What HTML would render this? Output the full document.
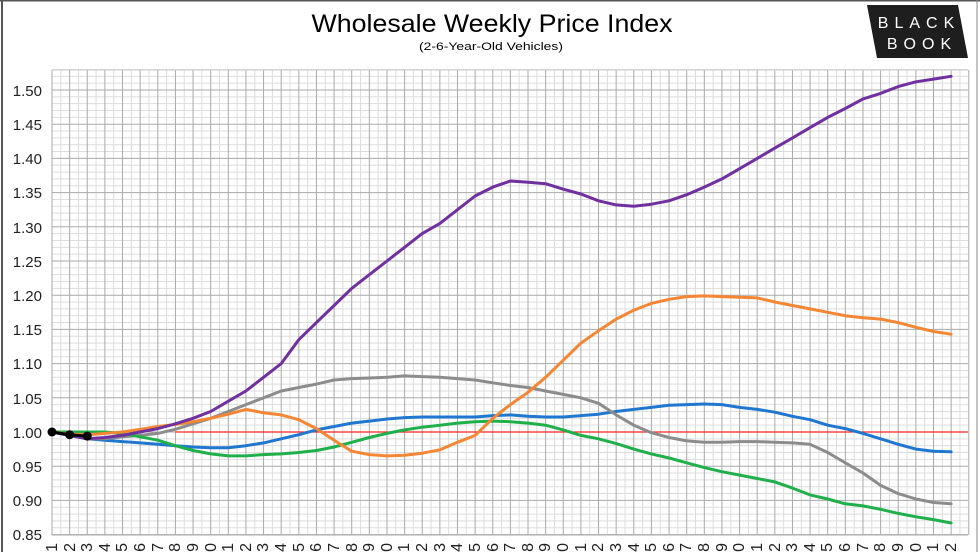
<!DOCTYPE html>
<html><head><meta charset="utf-8"><style>
html,body{margin:0;padding:0;background:#fff}
svg{display:block;font-family:"Liberation Sans",Arial,sans-serif}
</style></head><body>
<svg id="s" width="980" height="552" viewBox="0 0 980 552" xmlns="http://www.w3.org/2000/svg">
<rect x="0" y="0" width="980" height="552" fill="#fff"/>
<line x1="0" y1="0.5" x2="980" y2="0.5" stroke="#555" stroke-width="2"/>
<line x1="2" y1="0" x2="2" y2="552" stroke="#555" stroke-width="2"/>
<line x1="977" y1="0" x2="977" y2="552" stroke="#888" stroke-width="1"/>
<g id="grid"></g>
<g id="series"></g>
<text x="492" y="32" font-size="25" text-anchor="middle" textLength="361" lengthAdjust="spacingAndGlyphs">Wholesale Weekly Price Index</text>
<text x="491" y="50" font-size="11" text-anchor="middle" textLength="144" lengthAdjust="spacingAndGlyphs">(2-6-Year-Old Vehicles)</text>
<polygon points="867,5 958,5 968,58 877,58" fill="#1e1e1e"/>
<text x="919" y="28" font-size="16" fill="#fff" text-anchor="middle" letter-spacing="6">BLACK</text>
<text x="922" y="49" font-size="16" fill="#fff" text-anchor="middle" letter-spacing="6">BOOK</text>
<g font-size="15" fill="#222" text-anchor="end">
<text x="42" y="96">1.50</text><text x="42" y="130">1.45</text><text x="42" y="164">1.40</text><text x="42" y="198">1.35</text><text x="42" y="233">1.30</text><text x="42" y="267">1.25</text><text x="42" y="301">1.20</text><text x="42" y="335">1.15</text><text x="42" y="369">1.10</text><text x="42" y="404">1.05</text><text x="42" y="438">1.00</text><text x="42" y="472">0.95</text><text x="42" y="506">0.90</text><text x="42" y="540">0.85</text>
</g>
<g id="xl" font-size="16" fill="#222" text-anchor="end">
<text transform="translate(57,543) rotate(-90)">1</text><text transform="translate(75,543) rotate(-90)">2</text><text transform="translate(92,543) rotate(-90)">3</text><text transform="translate(110,543) rotate(-90)">4</text><text transform="translate(127,543) rotate(-90)">5</text><text transform="translate(145,543) rotate(-90)">6</text><text transform="translate(163,543) rotate(-90)">7</text><text transform="translate(180,543) rotate(-90)">8</text><text transform="translate(198,543) rotate(-90)">9</text><text transform="translate(216,543) rotate(-90)">10</text><text transform="translate(233,543) rotate(-90)">11</text><text transform="translate(251,543) rotate(-90)">12</text><text transform="translate(268,543) rotate(-90)">13</text><text transform="translate(286,543) rotate(-90)">14</text><text transform="translate(304,543) rotate(-90)">15</text><text transform="translate(321,543) rotate(-90)">16</text><text transform="translate(339,543) rotate(-90)">17</text><text transform="translate(357,543) rotate(-90)">18</text><text transform="translate(374,543) rotate(-90)">19</text><text transform="translate(392,543) rotate(-90)">20</text><text transform="translate(409,543) rotate(-90)">21</text><text transform="translate(427,543) rotate(-90)">22</text><text transform="translate(445,543) rotate(-90)">23</text><text transform="translate(462,543) rotate(-90)">24</text><text transform="translate(480,543) rotate(-90)">25</text><text transform="translate(498,543) rotate(-90)">26</text><text transform="translate(515,543) rotate(-90)">27</text><text transform="translate(533,543) rotate(-90)">28</text><text transform="translate(550,543) rotate(-90)">29</text><text transform="translate(568,543) rotate(-90)">30</text><text transform="translate(586,543) rotate(-90)">31</text><text transform="translate(603,543) rotate(-90)">32</text><text transform="translate(621,543) rotate(-90)">33</text><text transform="translate(639,543) rotate(-90)">34</text><text transform="translate(656,543) rotate(-90)">35</text><text transform="translate(674,543) rotate(-90)">36</text><text transform="translate(691,543) rotate(-90)">37</text><text transform="translate(709,543) rotate(-90)">38</text><text transform="translate(727,543) rotate(-90)">39</text><text transform="translate(744,543) rotate(-90)">40</text><text transform="translate(762,543) rotate(-90)">41</text><text transform="translate(780,543) rotate(-90)">42</text><text transform="translate(797,543) rotate(-90)">43</text><text transform="translate(815,543) rotate(-90)">44</text><text transform="translate(832,543) rotate(-90)">45</text><text transform="translate(850,543) rotate(-90)">46</text><text transform="translate(868,543) rotate(-90)">47</text><text transform="translate(885,543) rotate(-90)">48</text><text transform="translate(903,543) rotate(-90)">49</text><text transform="translate(921,543) rotate(-90)">50</text><text transform="translate(938,543) rotate(-90)">51</text><text transform="translate(956,543) rotate(-90)">52</text>
</g>
</svg>
<script>
(function(){
var NS="http://www.w3.org/2000/svg";
var L=52,R=968,T=70,B=535,dx=17.63;
function X(w){return L+(w-1)*dx;}
function Y(v){return 432-(v-1)*684;}
function el(tag,a,p){var e=document.createElementNS(NS,tag);for(var k in a)e.setAttribute(k,a[k]);p.appendChild(e);return e;}
var g=document.getElementById("grid");
for(var i=0;i<=68;i++){var v=0.85+i*0.01;var y=Y(v);var major=(i%5==0);
 if(!major) el("line",{x1:L,x2:R,y1:y,y2:y,stroke:"#ddd","stroke-width":1},g);}
for(var w=1;w<=52;w++){var x=X(w)+dx/2;el("line",{x1:x,x2:x,y1:T,y2:B,stroke:"#ddd","stroke-width":1},g);}
for(var w=1;w<=53;w++){var x=X(w);el("line",{x1:x,x2:x,y1:T,y2:B,stroke:"#aaa","stroke-width":1},g);}
for(var i=0;i<=13;i++){var y=Y(0.85+i*0.05);el("line",{x1:L,x2:R,y1:y,y2:y,stroke:"#aaa","stroke-width":1},g);}
el("line",{x1:L,x2:R,y1:T,y2:T,stroke:"#ccc","stroke-width":1},g);
el("line",{x1:L,x2:R,y1:B,y2:B,stroke:"#aaa","stroke-width":1},g);
el("line",{x1:X(8),x2:R,y1:Y(1),y2:Y(1),stroke:"#ff2020","stroke-width":1.2},g);
var S=document.getElementById("series");
var data={
"#7030a0":[1,0.995,0.99,0.992,0.995,1,1.005,1.012,1.02,1.03,1.045,1.06,1.08,1.10,1.135,1.16,1.185,1.21,1.23,1.25,1.27,1.29,1.305,1.325,1.345,1.358,1.367,1.365,1.363,1.355,1.348,1.338,1.332,1.330,1.333,1.338,1.347,1.358,1.37,1.385,1.40,1.415,1.43,1.445,1.46,1.473,1.487,1.495,1.505,1.512,1.516,1.52],
"#f58634":[1,0.997,0.996,0.998,1,1.004,1.008,1.011,1.015,1.02,1.026,1.033,1.028,1.025,1.018,1.005,0.988,0.972,0.967,0.965,0.966,0.969,0.974,0.985,0.995,1.02,1.04,1.058,1.08,1.105,1.13,1.148,1.165,1.178,1.188,1.194,1.198,1.199,1.198,1.197,1.196,1.19,1.185,1.18,1.175,1.17,1.167,1.165,1.16,1.153,1.147,1.143],
"#8c8c8c":[1,0.995,0.99,0.99,0.993,0.995,0.998,1.004,1.012,1.02,1.03,1.04,1.05,1.06,1.065,1.07,1.076,1.078,1.079,1.08,1.082,1.081,1.08,1.078,1.076,1.072,1.068,1.065,1.06,1.055,1.05,1.042,1.025,1.01,0.999,0.992,0.987,0.985,0.985,0.986,0.986,0.985,0.984,0.982,0.97,0.955,0.94,0.922,0.91,0.902,0.897,0.895],
"#1f77d0":[1,0.995,0.99,0.988,0.986,0.984,0.982,0.98,0.978,0.977,0.977,0.98,0.984,0.99,0.996,1.003,1.008,1.013,1.016,1.019,1.021,1.022,1.022,1.022,1.022,1.024,1.025,1.023,1.022,1.022,1.024,1.026,1.03,1.033,1.036,1.039,1.04,1.041,1.04,1.036,1.033,1.029,1.023,1.018,1.01,1.005,0.998,0.99,0.982,0.975,0.972,0.971],
"#1fb04b":[1,1,1,1,0.998,0.993,0.988,0.98,0.973,0.968,0.965,0.965,0.967,0.968,0.97,0.973,0.978,0.985,0.992,0.998,1.003,1.007,1.01,1.013,1.015,1.016,1.015,1.013,1.01,1.003,0.995,0.99,0.983,0.975,0.968,0.962,0.955,0.948,0.942,0.937,0.932,0.927,0.918,0.908,0.902,0.895,0.892,0.887,0.881,0.876,0.872,0.867]
};
var order=["#1f77d0","#8c8c8c","#1fb04b","#f58634","#7030a0"];
order.forEach(function(c){var d=data[c];var pts=d.map(function(v,i){return X(i+1).toFixed(1)+","+Y(v).toFixed(1);}).join(" ");
 el("polyline",{points:pts,fill:"none",stroke:c,"stroke-width":3,"stroke-linejoin":"round","stroke-linecap":"round"},S);});
var bk=[1,0.996,0.994];
el("polyline",{points:bk.map(function(v,i){return X(i+1)+","+Y(v);}).join(" "),fill:"none",stroke:"#000","stroke-width":3},S);
bk.forEach(function(v,i){el("circle",{cx:X(i+1),cy:Y(v),r:4.5,fill:"#000"},S);});
})();
</script>
</body></html>
